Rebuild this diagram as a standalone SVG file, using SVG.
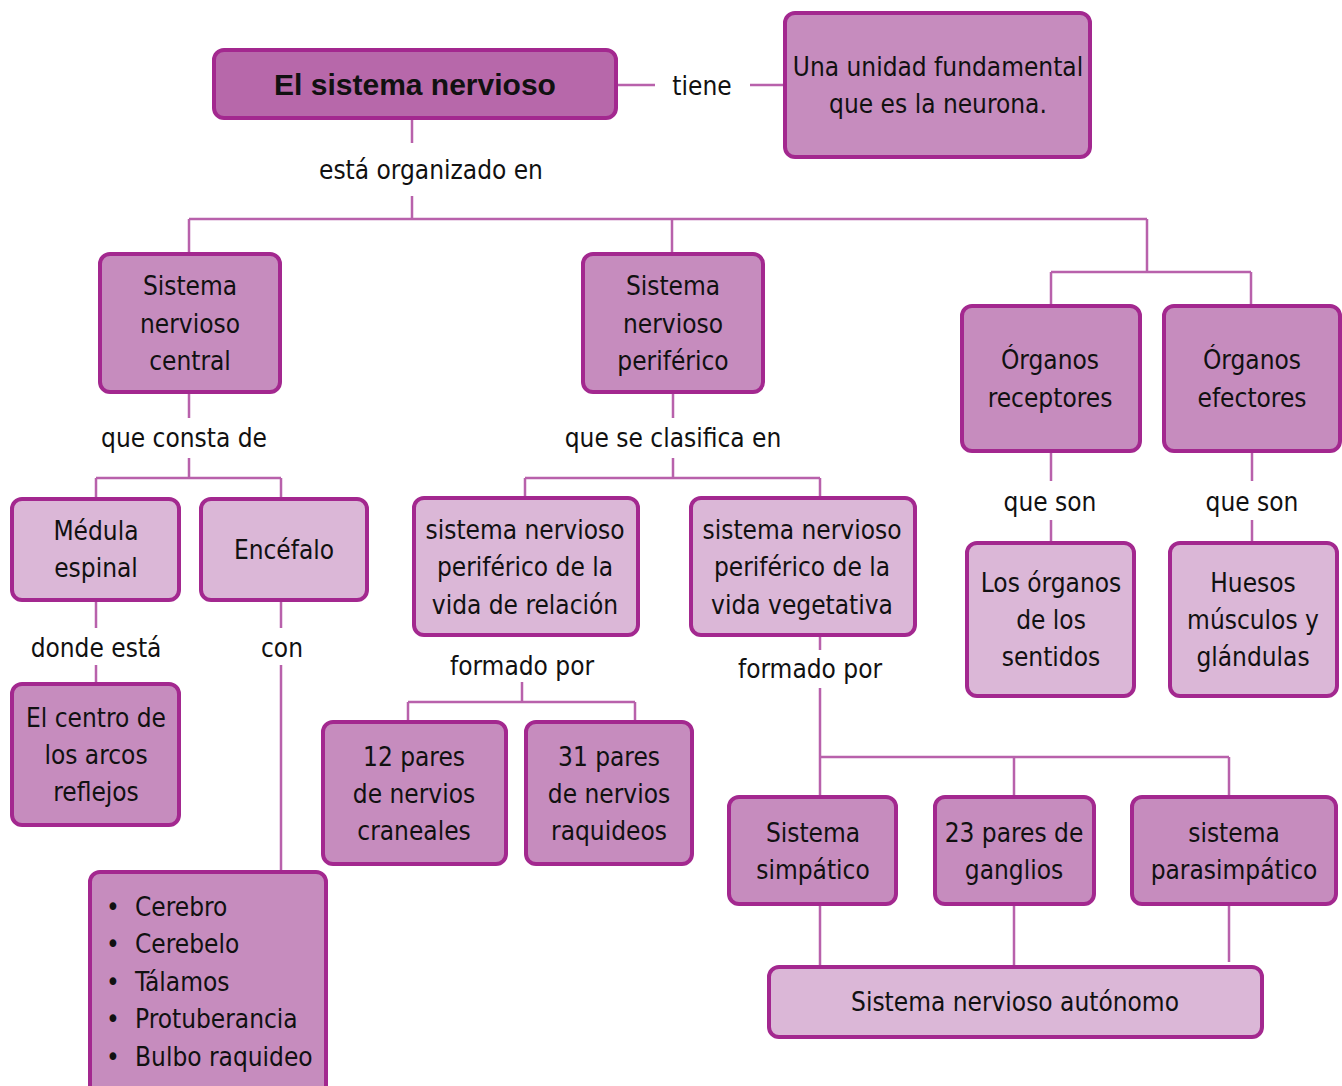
<svg xmlns="http://www.w3.org/2000/svg" width="1342" height="1086" viewBox="0 0 1342 1086">
<style>
.n rect{stroke:#a3288f;stroke-width:4}
.d rect{fill:#c68cbe}
.l rect{fill:#dbb7d7}
text{font-family:"DejaVu Sans Condensed","Liberation Sans Narrow","Liberation Sans",sans-serif;font-size:26px;fill:#111;text-anchor:middle}
.s{text-anchor:start}
#conn path{stroke:#b861ab;stroke-width:2.5;fill:none}
</style>
<rect width="1342" height="1086" fill="#fff"/>
<g id="conn">
<path d="M616 85H655M750 85H790"/>
<path d="M412 118V143M412 196V219M189 219H1147M189 219V254M672 219V254M1147 219V272M1051 272H1251M1051 272V306M1251 272V306"/>
<path d="M189 392V418M189 458V478M96 478H281M96 478V499M281 478V499"/>
<path d="M96 600V628M96 665V684M281 600V628M281 665V872"/>
<path d="M673 392V418M673 458V478M525 478H820M525 478V498M820 478V498"/>
<path d="M522 682V702M408 702H635M408 702V722M635 702V722"/>
<path d="M820 635V650M820 688V797M820 757H1229M1014 757V797M1229 757V797"/>
<path d="M820 904V967M1014 904V967M1229 904V962"/>
<path d="M1051 451V481M1051 520V543M1252 451V481M1252 520V543"/>
</g>
<g id="labels">
<text x="702" y="95">tiene</text>
<text x="431" y="179">está organizado en</text>
<text x="184" y="447">que consta de</text>
<text x="673" y="447">que se clasifica en</text>
<text x="96" y="657">donde está</text>
<text x="282" y="657">con</text>
<text x="522" y="675">formado por</text>
<text x="810" y="678">formado por</text>
<text x="1050" y="511">que son</text>
<text x="1252" y="511">que son</text>
</g>
<g id="n-title" class="n"><rect x="214" y="50" width="402" height="68" rx="10" fill="#b768aa"/><text x="415" y="95" style="font-family:'Liberation Sans',Arial,sans-serif;font-weight:bold;font-size:30px">El sistema nervioso</text></g>
<g id="n-unidad" class="n d"><rect x="785" y="13" width="305" height="144" rx="10"/><text x="938" y="76">Una unidad fundamental</text><text x="938" y="113">que es la neurona.</text></g>
<g id="n-snc" class="n d"><rect x="100" y="254" width="180" height="138" rx="10"/><text x="190" y="295">Sistema</text><text x="190" y="333">nervioso</text><text x="190" y="370">central</text></g>
<g id="n-snp" class="n d"><rect x="583" y="254" width="180" height="138" rx="10"/><text x="673" y="295">Sistema</text><text x="673" y="333">nervioso</text><text x="673" y="370">periférico</text></g>
<g id="n-receptores" class="n d"><rect x="962" y="306" width="178" height="145" rx="10"/><text x="1050" y="369">Órganos</text><text x="1050" y="407">receptores</text></g>
<g id="n-efectores" class="n d"><rect x="1164" y="306" width="176" height="145" rx="10"/><text x="1252" y="369">Órganos</text><text x="1252" y="407">efectores</text></g>
<g id="n-medula" class="n l"><rect x="12" y="499" width="167" height="101" rx="10"/><text x="96" y="540">Médula</text><text x="96" y="577">espinal</text></g>
<g id="n-encefalo" class="n l"><rect x="201" y="499" width="166" height="101" rx="10"/><text x="284" y="559">Encéfalo</text></g>
<g id="n-centro" class="n d"><rect x="12" y="684" width="167" height="141" rx="10"/><text x="96" y="727">El centro de</text><text x="96" y="764">los arcos</text><text x="96" y="801">reflejos</text></g>
<g id="n-lista" class="n d"><rect x="90" y="872" width="236" height="230" rx="10"/>
<text x="113" y="916">•</text><text x="113" y="953">•</text><text x="113" y="991">•</text><text x="113" y="1028">•</text><text x="113" y="1066">•</text>
<text class="s" x="135" y="916">Cerebro</text><text class="s" x="135" y="953">Cerebelo</text><text class="s" x="135" y="991">Tálamos</text><text class="s" x="135" y="1028">Protuberancia</text><text class="s" x="135" y="1066">Bulbo raquideo</text></g>
<g id="n-relacion" class="n l"><rect x="414" y="498" width="224" height="137" rx="10"/><text x="525" y="539">sistema nervioso</text><text x="525" y="576">periférico de la</text><text x="525" y="614">vida de relación</text></g>
<g id="n-vegetativa" class="n l"><rect x="691" y="498" width="224" height="137" rx="10"/><text x="802" y="539">sistema nervioso</text><text x="802" y="576">periférico de la</text><text x="802" y="614">vida vegetativa</text></g>
<g id="n-12pares" class="n d"><rect x="323" y="722" width="183" height="142" rx="10"/><text x="414" y="766">12 pares</text><text x="414" y="803">de nervios</text><text x="414" y="840">craneales</text></g>
<g id="n-31pares" class="n d"><rect x="526" y="722" width="166" height="142" rx="10"/><text x="609" y="766">31 pares</text><text x="609" y="803">de nervios</text><text x="609" y="840">raquideos</text></g>
<g id="n-simpatico" class="n d"><rect x="729" y="797" width="167" height="107" rx="10"/><text x="813" y="842">Sistema</text><text x="813" y="879">simpático</text></g>
<g id="n-ganglios" class="n d"><rect x="935" y="797" width="159" height="107" rx="10"/><text x="1014" y="842">23 pares de</text><text x="1014" y="879">ganglios</text></g>
<g id="n-parasimpatico" class="n d"><rect x="1132" y="797" width="204" height="107" rx="10"/><text x="1234" y="842">sistema</text><text x="1234" y="879">parasimpático</text></g>
<g id="n-autonomo" class="n l"><rect x="769" y="967" width="493" height="70" rx="10"/><text x="1015" y="1011">Sistema nervioso autónomo</text></g>
<g id="n-sentidos" class="n l"><rect x="967" y="543" width="167" height="153" rx="10"/><text x="1051" y="592">Los órganos</text><text x="1051" y="629">de los</text><text x="1051" y="666">sentidos</text></g>
<g id="n-huesos" class="n l"><rect x="1170" y="543" width="167" height="153" rx="10"/><text x="1253" y="592">Huesos</text><text x="1253" y="629">músculos y</text><text x="1253" y="666">glándulas</text></g>
</svg>
